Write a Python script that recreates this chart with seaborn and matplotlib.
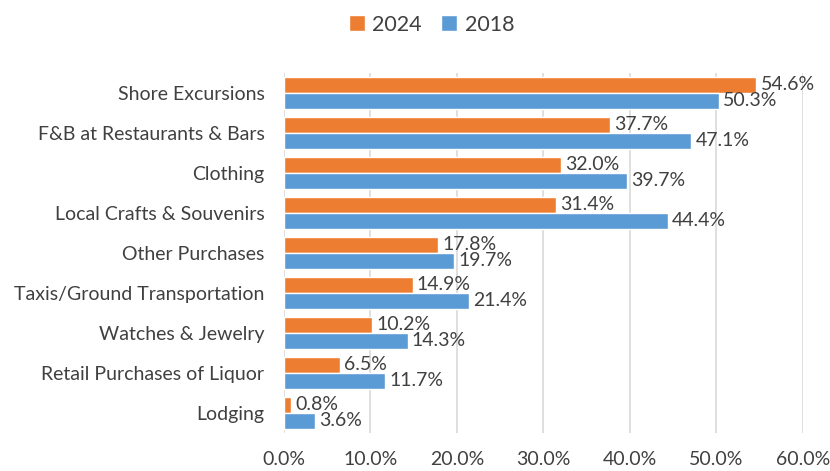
import pandas as pd
import matplotlib
matplotlib.use('Agg')
import matplotlib.pyplot as plt
import seaborn as sns
from matplotlib.ticker import PercentFormatter

categories = ['Shore Excursions', 'F&B at Restaurants & Bars', 'Clothing',
              'Local Crafts & Souvenirs', 'Other Purchases',
              'Taxis/Ground Transportation', 'Watches & Jewelry',
              'Retail Purchases of Liquor', 'Lodging']
values_2024 = [54.6, 37.7, 32.0, 31.4, 17.8, 14.9, 10.2, 6.5, 0.8]
values_2018 = [50.3, 47.1, 39.7, 44.4, 19.7, 21.4, 14.3, 11.7, 3.6]
years = ['2024', '2018']
colors = ['#ED7D31', '#5B9BD5']

df = pd.DataFrame({
    'category': categories * 2,
    'value': values_2024 + values_2018,
    'year': ['2024'] * len(categories) + ['2018'] * len(categories),
})

sns.set_style('white')
plt.rcParams['font.family'] = ['Lato', 'DejaVu Sans']
text_color = '#404040'

fig = plt.figure(figsize=(8.3, 4.71), dpi=100)
ax = fig.add_axes([0.342, 0.081, 0.6255, 0.764])

sns.barplot(data=df, y='category', x='value', hue='year', hue_order=years,
            order=categories, palette=colors, width=0.8, orient='h',
            saturation=1, ax=ax, legend=True)

for cont in ax.containers:
    ax.bar_label(cont, labels=[f'{v:.1f}%' for v in cont.datavalues],
                 padding=3, fontsize=14, color=text_color)

ax.set_xlim(0, 60)
ax.set_xticks(range(0, 61, 10))
ax.xaxis.set_major_formatter(PercentFormatter(decimals=1))
ax.grid(axis='x', color='#D9D9D9', linewidth=1.2)
ax.set_axisbelow(True)
for s in ax.spines.values():
    s.set_visible(False)
ax.set_xlabel('')
ax.set_ylabel('')
ax.tick_params(axis='both', length=0, labelsize=14, labelcolor=text_color)
ax.tick_params(axis='x', pad=13)
ax.tick_params(axis='y', pad=14)

handles, labels = ax.get_legend_handles_labels()
ax.legend_.remove()
fig.legend(handles, labels, loc='upper center', bbox_to_anchor=(0.52, 1.01),
           ncol=2, frameon=False, fontsize=15.5, handlelength=0.75,
           handleheight=0.75, handletextpad=0.35, columnspacing=0.9,
           labelcolor=text_color)

fig.savefig('out.png', dpi=100)
